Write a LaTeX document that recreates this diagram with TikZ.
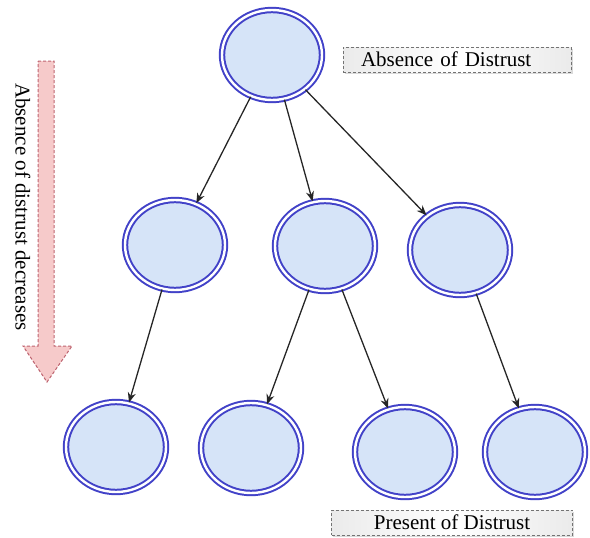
\documentclass[tikz,border=0pt]{standalone}
\usepackage{fontspec}
\setmainfont{Liberation Serif}
\usepackage{tikz}
\usetikzlibrary{shapes.geometric,shadows,arrows.meta}

\definecolor{ringblue}{RGB}{66,66,200}
\definecolor{cellfill}{RGB}{214,228,248}
\definecolor{arrowpink}{RGB}{246,202,202}
\definecolor{arrowedge}{RGB}{190,100,112}

\begin{document}
\begin{tikzpicture}[>={Stealth[length=10pt,width=8pt]},x=1pt,y=-1pt,
    state/.style={ellipse, draw=ringblue, double=white, double distance=2.4pt,
        line width=2pt, fill=cellfill, minimum width=100pt, minimum height=90pt,
        drop shadow={shadow xshift=1.5pt, shadow yshift=-1.5pt, opacity=.25}},
    tag/.style={draw=gray!90!black, dash pattern=on 3pt off 2pt, line width=1pt,
        left color=gray!16, right color=gray!16, middle color=white,
        minimum height=25pt, inner ysep=0pt,
        font=\fontsize{21}{25}\selectfont,
        drop shadow={shadow xshift=1.5pt, shadow yshift=-1.5pt, opacity=.3}},
    link/.style={->, line width=1.3pt, black!85}]

    \useasboundingbox (0,0) rectangle (590,538);

%the trend arrow
    \draw[arrowedge, fill=arrowpink, dash pattern=on 3pt off 2pt, line width=1pt]
        (38,61) -- (54,61) -- (54,346) -- (72,346) -- (47,382) -- (23,346) -- (38,346) -- cycle;
    \node[rotate=-90, font=\fontsize{21}{25}\selectfont] (trend) at (23,207) {Absence of distrust decreases};

%the tree
    \node[state] (top) at (272,55) {};

    \node[state] (midl) at (175,245) {};
    \node[state] (midm) at (325,246) {};
    \node[state] (midr) at (460,250) {};

    \node[state] (botl) at (116,447) {};
    \node[state] (botml) at (251,448) {};
    \node[state] (botmr) at (405,452) {};
    \node[state] (botr) at (535,452) {};

    \draw[link] (top) -- (midl);
    \draw[link] (top) -- (midm);
    \draw[link] (top) -- (midr);
    \draw[link] (midl) -- (botl);
    \draw[link] (midm) -- (botml);
    \draw[link] (midm) -- (botmr);
    \draw[link] (midr) -- (botr);

%the two ends
    \node[tag, text width=192pt, inner xsep=18pt, align=left] (absent) at (457,59.5) {Absence of Distrust};
    \node[tag, minimum width=241pt] (present) at (452,522.5) {Present of Distrust};
\end{tikzpicture}
\end{document}
